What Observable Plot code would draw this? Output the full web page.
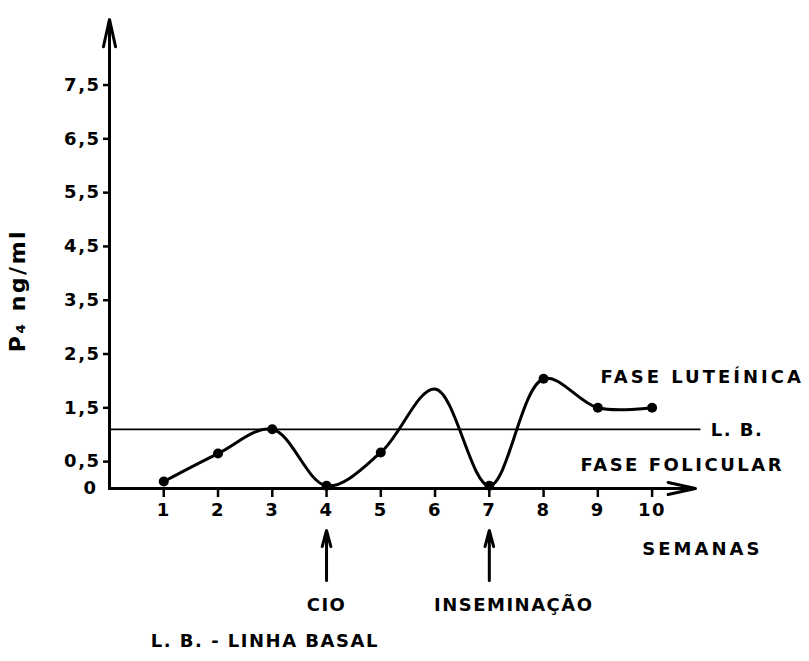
<!DOCTYPE html>
<html><head><meta charset="utf-8">
<script src="https://cdn.jsdelivr.net/npm/d3@7"></script>
<script src="https://cdn.jsdelivr.net/npm/@observablehq/plot@0.6"></script>
<style>
body{margin:0;background:#fff;}
svg text{font-family:"DejaVu Sans",sans-serif;font-weight:bold;}
</style></head>
<body><div id="chart"></div>
<script>
const weeks = [1,2,3,4,5,6,7,8,9,10];
const p4 = [0.13,0.65,1.1,0.05,0.67,1.85,0.05,2.04,1.5,1.5];
const marked = [true,true,true,true,true,false,true,true,true,true];
const yTicks = [0.5,1.5,2.5,3.5,4.5,5.5,6.5,7.5];
const baseline = 1.1;
const eventWeeks = [4,7];
const eventLabels = ["CIO","INSEMINAÇÃO"];
const eventLabelX = [4,7.45];

const data = weeks.map((w,i)=>({w, v:p4[i], m:marked[i]}));
const events = eventWeeks.map((w,i)=>({w, label:eventLabels[i], lx:eventLabelX[i]}));
const notes = [
  {x:9.05, y:2.06, t:"FASE LUTEÍNICA", ls:3},
  {x:11.08, y:1.08, t:"L. B.", ls:1.5},
  {x:8.68, y:0.43, t:"FASE FOLICULAR", ls:2.5},
  {x:9.82, y:-1.13, t:"SEMANAS", ls:3},
  {x:0.76, y:-2.83, t:"L. B. - LINHA BASAL", ls:1.5}
];

const chart = Plot.plot({
  width:809, height:661,
  marginLeft:109, marginRight:114, marginTop:20, marginBottom:173,
  x:{domain:[0,10.8]},
  y:{domain:[0,8.7]},
  style:{fontFamily:"DejaVu Sans", fontWeight:"bold", color:"#000", background:"#fff"},
  marks:[
    Plot.axisX(weeks,{tickSize:9, tickPadding:6, fontSize:18, strokeWidth:2.5, label:null}),
    Plot.axisY(yTicks,{tickSize:6, tickPadding:3, fontSize:18, strokeWidth:2.5, tickFormat:d=>String(d).replace(".",","), label:null}),
    Plot.axisY([0],{tickSize:0, tickPadding:12, fontSize:18, tickFormat:()=>"0", label:null}),
    Plot.arrow([{x1:0,y1:0,x2:0,y2:8.72}],{x1:"x1",y1:"y1",x2:"x2",y2:"y2",strokeWidth:3,headLength:14,headAngle:25,stroke:"#000"}),
    Plot.arrow([{x1:0,y1:0,x2:10.8,y2:0}],{x1:"x1",y1:"y1",x2:"x2",y2:"y2",strokeWidth:3,headLength:14,headAngle:25,stroke:"#000"}),
    Plot.ruleY([baseline],{x1:0,x2:10.9,strokeWidth:1.8,stroke:"#000"}),
    Plot.line(data,{x:"w",y:"v",curve:"catmull-rom",strokeWidth:3,stroke:"#000"}),
    Plot.dot(data.filter(d=>d.m),{x:"w",y:"v",r:5,fill:"#000"}),
    Plot.arrow(events,{x1:"w",x2:"w",y1:-1.71,y2:-0.78,strokeWidth:3,headLength:10,headAngle:30,stroke:"#000"}),
    Plot.text(events,{x:"lx",y:-2.17,text:"label",fontSize:18,fill:"#000",textAnchor:"middle"}),
    Plot.text(notes,{x:"x",y:"y",text:"t",fontSize:18,fill:"#000",textAnchor:"start"}),
    Plot.text(["P₄ ng/ml"],{x:-1.68,y:3.68,text:d=>d,rotate:-90,fontSize:22,fill:"#000"})
  ]
});
chart.querySelectorAll("text").forEach(t=>t.setAttribute("letter-spacing","1.5"));
const noteTexts = [...chart.querySelectorAll("text")].filter(t=>notes.some(n=>n.t===t.textContent));
noteTexts.forEach(t=>{const n=notes.find(n=>n.t===t.textContent); t.setAttribute("letter-spacing", n.ls);});
[...chart.querySelectorAll("text")].filter(t=>t.textContent.startsWith("P₄")).forEach(t=>t.setAttribute("letter-spacing","2.5"));
document.getElementById("chart").append(chart);
</script></body></html>
